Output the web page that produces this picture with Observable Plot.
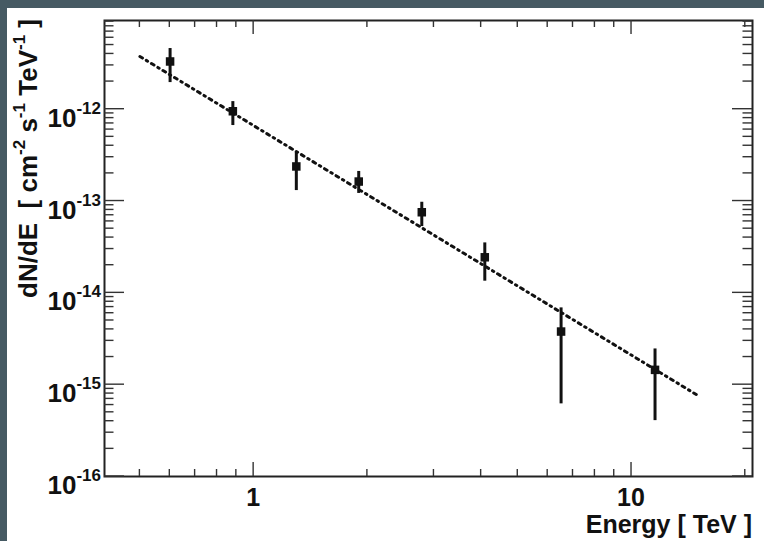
<!DOCTYPE html>
<html><head><meta charset="utf-8">
<script src="https://cdn.jsdelivr.net/npm/d3@7"></script>
<script src="https://cdn.jsdelivr.net/npm/@observablehq/plot@0.6"></script>
<style>
html,body{margin:0;padding:0;background:#465a63;width:764px;height:541px;overflow:hidden}
#panel{position:absolute;left:7px;top:8px;width:757px;height:533px;background:#fff}
#chart{position:absolute;left:0;top:0}
text{font-family:"Liberation Sans",Arial,sans-serif;font-weight:bold;fill:#111}
</style></head><body>
<div id="panel"></div><div id="chart"></div>
<script>
// Measured spectrum points (energy in TeV, flux dN/dE in cm^-2 s^-1 TeV^-1)
const energy   = [0.601, 0.881, 1.297, 1.897, 2.786, 4.09, 6.51, 11.54];
const flux     = [3.31e-12, 9.5e-13, 2.38e-13, 1.63e-13, 7.55e-14, 2.44e-14, 3.79e-15, 1.45e-15];
const fluxHigh = [4.58e-12, 1.21e-12, 3.4e-13, 2.1e-13, 9.7e-14, 3.5e-14, 6.86e-15, 2.45e-15];
const fluxLow  = [1.95e-12, 6.64e-13, 1.3e-13, 1.21e-13, 5.27e-14, 1.34e-14, 6.18e-16, 4.06e-16];
// Power-law fit line end points
const fitEnergy = [0.5, 15];
const fitFlux   = [3.75e-12, 7.6e-16];
// Axis ticks
const xMajor = [1, 10];
const xMajorLabels = ["1", "10"];
const xMinor = [0.5, 0.6, 0.7, 0.8, 0.9, 2, 3, 4, 5, 6, 7, 8, 9, 20];
const yMajorExp = [-16, -15, -14, -13, -12];
const yMinorMantissa = [2, 3, 4, 5, 6, 7, 8, 9];
const xDomain = [0.403, 20.9];
const yDomain = [1e-16, 9.25e-12];
const xTitle = "Energy [ TeV ]";
const yTitleParts = [["dN/dE  [ cm", false], ["-2", true], [" s", false], ["-1", true], [" TeV", false], ["-1", true], [" ]", false]];

const points = energy.map((e, i) => ({e, f: flux[i], hi: fluxHigh[i], lo: fluxLow[i]}));
const fit = fitEnergy.map((e, i) => ({e, f: fitFlux[i]}));

const chart = Plot.plot({
  width: 764, height: 541,
  marginLeft: 104, marginRight: 12, marginTop: 20, marginBottom: 65,
  style: {background: "transparent", overflow: "visible"},
  x: {type: "log", domain: xDomain, axis: null},
  y: {type: "log", domain: yDomain, axis: null},
  marks: [
    Plot.line(fit, {x: "e", y: "f", stroke: "#111", strokeWidth: 3, strokeDasharray: "3,4.5,1.5,4.5"}),
    Plot.ruleX(points, {x: "e", y1: "lo", y2: "hi", stroke: "#111", strokeWidth: 3}),
    Plot.dot(points, {x: "e", y: "f", symbol: "square", r: 4.8, fill: "#111", stroke: "none"}),
    Plot.frame({stroke: "#222", strokeWidth: 2})
  ]
});
document.getElementById("chart").appendChild(chart);

const sx = chart.scale("x"), sy = chart.scale("y");
const X = v => sx.apply(v), Y = v => sy.apply(v);
const x0 = X(xDomain[0]), x1 = X(xDomain[1]);
const y0 = Y(yDomain[0]), y1 = Y(yDomain[1]);
const svg = d3.select(chart);
const g = svg.append("g").attr("stroke", "#333").attr("stroke-width", 1.4);

function hline(y, len) {
  g.append("line").attr("x1", x0).attr("x2", x0 + len).attr("y1", y).attr("y2", y);
  g.append("line").attr("x1", x1).attr("x2", x1 - len).attr("y1", y).attr("y2", y);
}
function vline(x, len) {
  g.append("line").attr("x1", x).attr("x2", x).attr("y1", y0).attr("y2", y0 - len);
  g.append("line").attr("x1", x).attr("x2", x).attr("y1", y1).attr("y2", y1 + len);
}
yMajorExp.forEach(p => {
  hline(Y(Math.pow(10, p)), 20);
  yMinorMantissa.forEach(m => {
    const v = m * Math.pow(10, p);
    if (v <= yDomain[1]) hline(Y(v), 9.5);
  });
});
xMajor.forEach(v => vline(X(v), 14));
xMinor.forEach(v => vline(X(v), 7));

// Y tick labels
yMajorExp.forEach(p => {
  const y = Y(Math.pow(10, p));
  const t = svg.append("text").attr("x", x0 - 3).attr("y", y + 18).attr("text-anchor", "end");
  t.append("tspan").attr("font-size", 26).text("10");
  t.append("tspan").attr("font-size", 17).attr("dy", -13).text(String(p));
});
// X tick labels
xMajor.forEach((v, i) => {
  svg.append("text").attr("x", X(v)).attr("y", y0 + 30).attr("text-anchor", "middle")
    .attr("font-size", 25).text(xMajorLabels[i]);
});
// X title
svg.append("text").attr("transform", `translate(${x1},${y0 + 57})`).attr("text-anchor", "end")
  .attr("font-size", 25).text(xTitle);
// Y title
const yt = svg.append("text").attr("transform", `translate(37,${y1 - 1}) rotate(-90)`).attr("text-anchor", "end")
  .attr("font-size", 26);
yTitleParts.forEach(([s, sup], i) => {
  const ts = yt.append("tspan").attr("font-size", sup ? 17 : 26).text(s);
  const prevSup = i > 0 && yTitleParts[i - 1][1];
  if (sup) ts.attr("dy", -12);
  else if (prevSup) ts.attr("dy", 12);
});
</script>
</body></html>
